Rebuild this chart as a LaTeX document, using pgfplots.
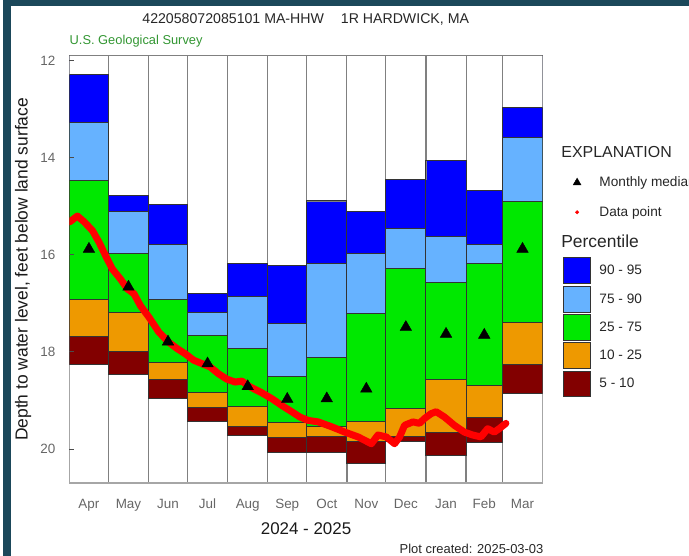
\documentclass[border=0pt]{standalone}
\usepackage{fontspec}
\setmainfont{Liberation Sans}
\usepackage{pgfplots}
\usepackage{pgfplotstable}
\pgfplotsset{compat=1.18}

\definecolor{frameteal}{RGB}{27,72,90}
\definecolor{pc95}{RGB}{0,0,255}
\definecolor{pc90}{RGB}{102,178,255}
\definecolor{pc75}{RGB}{0,232,0}
\definecolor{pc25}{RGB}{238,153,0}
\definecolor{pc10}{RGB}{130,0,0}
\definecolor{usgs}{RGB}{50,150,50}

\pgfplotsset{
  layers/gridbelow/.define layer set={
    axis background,axis grid,axis lines,main,axis ticks,
    axis tick labels,axis descriptions,axis foreground
  }{/pgfplots/layers/standard},
  pctbox/.style={legend image code/.code={\draw[##1] (0pt,-13pt) rectangle (27pt,13pt);}},
  legmark/.style={legend image code/.code={\path[draw=none,fill=none] (0pt,-14.1pt) rectangle (27pt,14.1pt);
      \draw[##1] plot coordinates {(14pt,0pt)};}},
  leghead/.style={legend image code/.code={\path[draw=none,fill=none] (0pt,-14.1pt) rectangle (27pt,14.1pt);
      \node[overlay,anchor=west,inner sep=0pt,draw=none,fill=none,text=black!85] at (-2pt,0pt) {#1};}},
}

% month boundaries (days from 1 April) and percentile depths, ft below land surface
\pgfplotstableread{
start p95   p90   p75   p25   p10   p5
0     12.29 13.27 14.46 16.92 17.68 18.26
30    14.77 15.11 15.97 17.18 17.99 18.46
61    14.96 15.78 16.91 18.21 18.57 18.95
91    16.79 17.18 17.65 18.84 19.15 19.44
122   16.17 16.85 17.93 19.13 19.53 19.71
153   16.22 17.42 18.50 19.45 19.77 20.07
183   14.89 16.17 18.12 19.54 19.75 20.06
214   15.11 15.97 17.20 19.44 19.85 20.30
244   14.44 15.45 16.27 19.17 19.75 19.85
275   14.05 15.62 16.57 18.56 19.65 20.14
306   14.67 15.79 16.17 18.69 19.34 19.86
334   12.96 13.59 14.89 17.39 18.26 18.86
365   12.96 13.59 14.89 17.39 18.26 18.86
}\pct

\pgfplotstableread{
mid   med
15    15.88
45.5  16.66
76    17.79
106.5 18.24
137.5 18.71
168   18.97
198.5 18.96
229   18.76
259.5 17.49
290.5 17.63
320   17.65
349.5 15.88
}\medians

\pgfplotstableread{
day   depth
0.2   15.32
6.1   15.20
11.3  15.32
17.7  15.50
22.8  15.74
27.9  16.02
33    16.29
39.4  16.50
44.6  16.70
49.7  16.80
54.8  17.05
61.2  17.28
68.9  17.59
76.6  17.80
83    17.93
89.4  18.04
95.8  18.17
102.2 18.24
108.6 18.31
115   18.45
121.4 18.56
127.8 18.62
133   18.60
139.4 18.72
148.3 18.84
156   18.96
163.7 19.10
171.4 19.23
177.8 19.34
184.2 19.41
191.9 19.44
202.2 19.54
212.4 19.65
222.7 19.75
232.9 19.89
238   19.71
244.4 19.75
250.8 19.89
254.7 19.75
258.5 19.51
265   19.44
270   19.47
273.9 19.37
279   19.27
282.9 19.23
289.3 19.34
296.9 19.51
304.6 19.65
311   19.71
317.4 19.75
322.6 19.58
327.7 19.65
331.5 19.58
336.7 19.47
}\wl

\begin{document}
\pagecolor{white}
\begin{tikzpicture}[x=1pt,y=1pt]
\fill[frameteal] (0,0) rectangle (689,-6);
\fill[frameteal] (0,0) rectangle (8,-558);
\node[anchor=base west,inner sep=0pt,text=black!85,font=\fontsize{14.2}{17}\selectfont]
  at (140,-23.3) {422058072085101 MA-HHW\hspace*{17pt}1R HARDWICK, MA};
\node[anchor=base west,inner sep=0pt,text=usgs,font=\fontsize{12.9}{15}\selectfont]
  at (67,-45) {U.S. Geological Survey};
\node[anchor=base east,inner sep=0pt,text=black!85,font=\fontsize{13}{15}\selectfont]
  at (543,-556) {Plot created: 2025-03-03};

\begin{axis}[
  set layers=gridbelow,
  at={(67pt,-485pt)}, anchor=south west,
  scale only axis, width=475pt, height=429pt,
  xmin=0, xmax=365, ymin=11.9, ymax=20.7, y dir=reverse,
  axis line style={black!35, line width=1.6pt},
  ytick={12,14,16,18,20}, ytick pos=left,
  ytick style={black!70, line width=1pt}, major tick length=5pt,
  xtick={15,45.5,76,106.5,137.5,168,198.5,229,259.5,290.5,320,349.5},
  xticklabels={Apr,May,Jun,Jul,Aug,Sep,Oct,Nov,Dec,Jan,Feb,Mar},
  xtick style={draw=none},
  minor xtick={30,61,91,122,153,183,214,244,275,306,334},
  minor tick length=0pt, xminorgrids,
  minor grid style={black!50, line width=1.3pt},
  ticklabel style={text=black!60, font=\fontsize{13.5}{16}\selectfont},
  /pgf/number format/assume math mode=true,
  yticklabel style={anchor=east, inner sep=0pt, xshift=-14pt},
  xticklabel style={anchor=base, inner sep=0pt, yshift=-26pt},
  ylabel={Depth to water level, feet below land surface},
  ylabel style={at={(axis description cs:-0.0884,0.5)}, anchor=base,
    font=\fontsize{17.5}{20}\selectfont, text=black!90},
  xlabel={2024 - 2025},
  xlabel style={at={(axis description cs:0.5,-0.1212)}, anchor=base,
    font=\fontsize{17}{20}\selectfont, text=black!90},
  legend style={at={(1.0421,0.8056)}, anchor=north west, draw=none, fill=none,
    inner sep=0pt, row sep=1.5pt, column sep=9pt,
    font=\fontsize{13.7}{16}\selectfont, text=black!85, nodes={inner sep=0pt}},
  legend cell align=left,
]
\addplot[ybar interval, forget plot, fill=pc10, draw=black!80, line width=0.9pt] table[x=start,y=p5]{\pct};
\addplot[ybar interval, forget plot, fill=pc25, draw=black!80, line width=0.9pt] table[x=start,y=p10]{\pct};
\addplot[ybar interval, forget plot, fill=pc75, draw=black!80, line width=0.9pt] table[x=start,y=p25]{\pct};
\addplot[ybar interval, forget plot, fill=pc90, draw=black!80, line width=0.9pt] table[x=start,y=p75]{\pct};
\addplot[ybar interval, forget plot, fill=pc95, draw=black!80, line width=0.9pt] table[x=start,y=p90]{\pct};
\addplot[ybar interval, forget plot, fill=white, draw=black!50, line width=1.2pt] table[x=start,y=p95]{\pct};
\addplot[const plot, forget plot, draw=black!80, line width=1pt] table[x=start,y=p95]{\pct};
\addplot[only marks, forget plot, mark=triangle*, mark size=6.7pt, black] table[x=mid,y=med]{\medians};
\addplot[forget plot, red, line width=7pt, line join=round, line cap=round] table[x=day,y=depth]{\wl};

\addlegendimage{leghead={\fontsize{16}{19}\selectfont EXPLANATION}}
\addlegendentry{}
\addlegendimage{legmark, mark=triangle*, mark size=4.6pt, black, mark options={fill=black, draw=black}}
\addlegendentry{Monthly median}
\addlegendimage{legmark, mark=*, mark size=1.8pt, red, mark options={fill=red, draw=red}}
\addlegendentry{Data point}
\addlegendimage{leghead={\fontsize{17.5}{20}\selectfont Percentile}}
\addlegendentry{}
\addlegendimage{pctbox, fill=pc95, draw=black!80, line width=0.9pt}
\addlegendentry{90 - 95}
\addlegendimage{pctbox, fill=pc90, draw=black!80, line width=0.9pt}
\addlegendentry{75 - 90}
\addlegendimage{pctbox, fill=pc75, draw=black!80, line width=0.9pt}
\addlegendentry{25 - 75}
\addlegendimage{pctbox, fill=pc25, draw=black!80, line width=0.9pt}
\addlegendentry{10 - 25}
\addlegendimage{pctbox, fill=pc10, draw=black!80, line width=0.9pt}
\addlegendentry{5 - 10}
\end{axis}
\pgfresetboundingbox
\useasboundingbox (0,0) rectangle (689,-558);
\end{tikzpicture}
\end{document}
